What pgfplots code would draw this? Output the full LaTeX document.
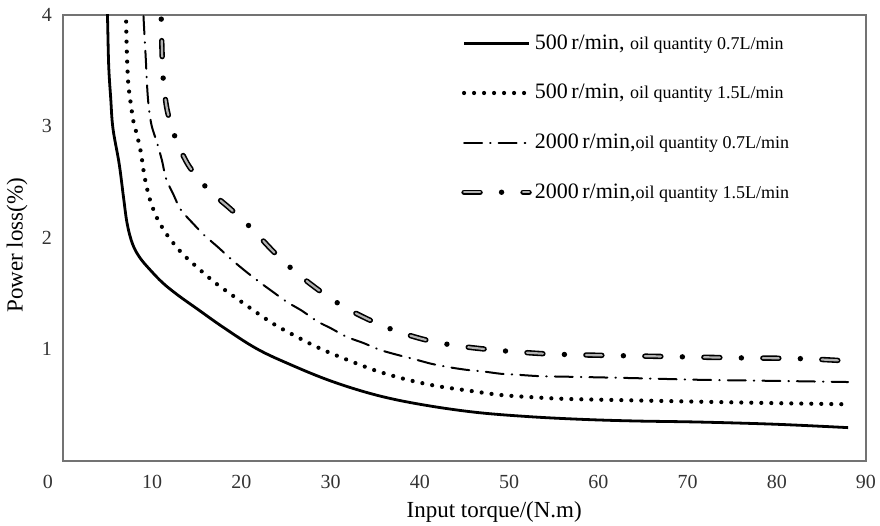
\documentclass[border=0pt]{standalone}
\usepackage{fontspec}
\setmainfont{Liberation Serif}
\usepackage{pgfplots}
\pgfplotsset{compat=1.18}
\begin{document}
\begin{tikzpicture}
\useasboundingbox (-31.5bp,-32.5bp) rectangle (408.5bp,230.5bp);
\begin{axis}[
  name=ax,
  scale only axis, width=401.5bp, height=223bp,
  xmin=0, xmax=90, ymin=-0.01, ymax=4,
  xtick={0,10,20,30,40,50,60,70,80,90}, ytick={1,2,3,4},
  xticklabels={\kern-7.5bp\relax 0\kern7.5bp\relax,10,20,30,40,50,60,70,80,90},
  major tick length=0pt,
  axis line style={draw=black!55, line width=0.75bp},
  tick label style={font=\fontsize{10bp}{12bp}\selectfont, text=black!80},
  /pgf/number format/assume math mode=true,
  xticklabel style={anchor=center, yshift=-10.5bp},
  yticklabel style={anchor=center, xshift=-8bp},
  xlabel={Input torque/(N.m)}, ylabel={Power loss(\%)},
  label style={font=\fontsize{11.5bp}{13bp}\selectfont},
  xlabel style={at={(axis description cs:0.537,-0.114)}, anchor=center},
  ylabel style={at={(axis description cs:-0.0573,0.484)}, anchor=center},
  legend image code/.code={\draw[#1] (0bp,0bp) -- (32.5bp,0bp);},
  legend cell align=left,
  legend style={draw=none, fill=none, at={(axis description cs:0.4956,0.957)}, anchor=north west,
    inner sep=0pt, row sep=16bp, column sep=0pt,
    nodes={inner xsep=1.5bp, inner ysep=0pt, font=\fontsize{11bp}{12bp}\selectfont}},
]
\addplot[black, line width=1.4bp, smooth, tension=0.6] coordinates {
 (4.80,4.3) (4.97,4.03) (5.12,3.55) (5.35,3.25) (5.6,2.98) (6.3,2.66) (6.8,2.35) (7.2,2.12)
 (7.8,1.94) (8.6,1.82) (9.75,1.71) (11.2,1.59) (12.9,1.48) (15,1.36) (18,1.19) (21.7,1.00)
 (25.4,0.86) (30,0.71) (35,0.585) (40,0.50) (46,0.43) (52,0.39) (58,0.365) (64,0.35)
 (71.4,0.34) (80,0.32) (88,0.29)};
\addlegendentry{500\,r/min, {\fontsize{9bp}{10bp}\selectfont oil quantity 0.7L/min}}
\addplot[black, line width=2.1bp, line cap=round, dash pattern=on 0pt off 5bp, smooth, tension=0.5] coordinates {
 (7.0,4.3) (7.06,4.02) (7.14,3.71) (7.3,3.40) (7.6,3.2) (7.9,3.04) (8.3,2.92) (8.74,2.76) (9.11,2.56)
 (9.67,2.36) (10.5,2.18) (11.69,2.02) (13.31,1.86) (15.06,1.73) (16.93,1.60) (18.8,1.49)
 (21.78,1.32) (23.85,1.21) (25.9,1.12) (28.06,1.03) (30.3,0.95) (34.79,0.81) (38.34,0.726)
 (41.82,0.665) (45.44,0.623) (48.99,0.584) (52.72,0.563) (56.47,0.548) (64,0.535) (71.4,0.523)
 (80,0.51) (88,0.50)};
\addlegendentry{500\,r/min, {\fontsize{9bp}{10bp}\selectfont oil quantity 1.5L/min}}
\addplot[black, line width=1bp, line cap=round, dash pattern=on 9bp off 4bp on 0.3bp off 4bp, smooth, tension=0.5] coordinates {
 (8.95,4.3) (9.0,4.03) (9.27,3.62) (9.45,3.33) (9.64,3.15) (9.95,3.0) (10.58,2.84) (11.1,2.69)
 (11.55,2.53) (12.41,2.38) (13.19,2.25) (14.52,2.13) (15.84,2.02) (17.41,1.91) (18.91,1.80)
 (20.4,1.70) (22.0,1.60) (23.45,1.515) (25.1,1.42) (26.8,1.34) (28.4,1.25) (30.1,1.18)
 (31.8,1.106) (33.7,1.05) (35.5,0.99) (37.4,0.946) (39.3,0.907) (41.3,0.864) (43.2,0.834)
 (45.2,0.81) (47.1,0.795) (49.1,0.774) (51,0.765) (53.1,0.754) (55,0.75) (57,0.747) (64,0.735)
 (71.4,0.72) (80,0.71) (88,0.70)};
\addlegendentry{2000\,r/min,{\fontsize{9bp}{10bp}\selectfont oil quantity 0.7L/min}}
\addplot[black, line width=2.7bp, line cap=round, dash pattern=on 8bp off 10.75bp on 0bp off 10.75bp,
  smooth, tension=0.5,
  postaction={draw, black!30, line width=1.1bp, line cap=round, dash pattern=on 8bp off 21.5bp}] coordinates {
 (10.95,4.3) (11.0,4.02) (11.1,3.67) (11.25,3.41) (11.69,3.14) (12.67,2.88) (14.13,2.64)
 (16.29,2.43) (18.72,2.26) (21.15,2.08) (23.5,1.88) (25.9,1.70) (28.6,1.53) (31.4,1.38)
 (34.3,1.26) (37.4,1.157) (40.6,1.08) (43.8,1.03) (47.2,0.997) (50.5,0.973) (53.8,0.955)
 (57,0.946) (60.4,0.94) (63.8,0.935) (67,0.93) (70.4,0.925) (73.7,0.92) (77,0.916)
 (80.3,0.914) (83.6,0.908) (87,0.894)};
\addlegendentry{2000\,r/min,{\fontsize{9bp}{10bp}\selectfont oil quantity 1.5L/min}}
\end{axis}
\end{tikzpicture}
\end{document}
